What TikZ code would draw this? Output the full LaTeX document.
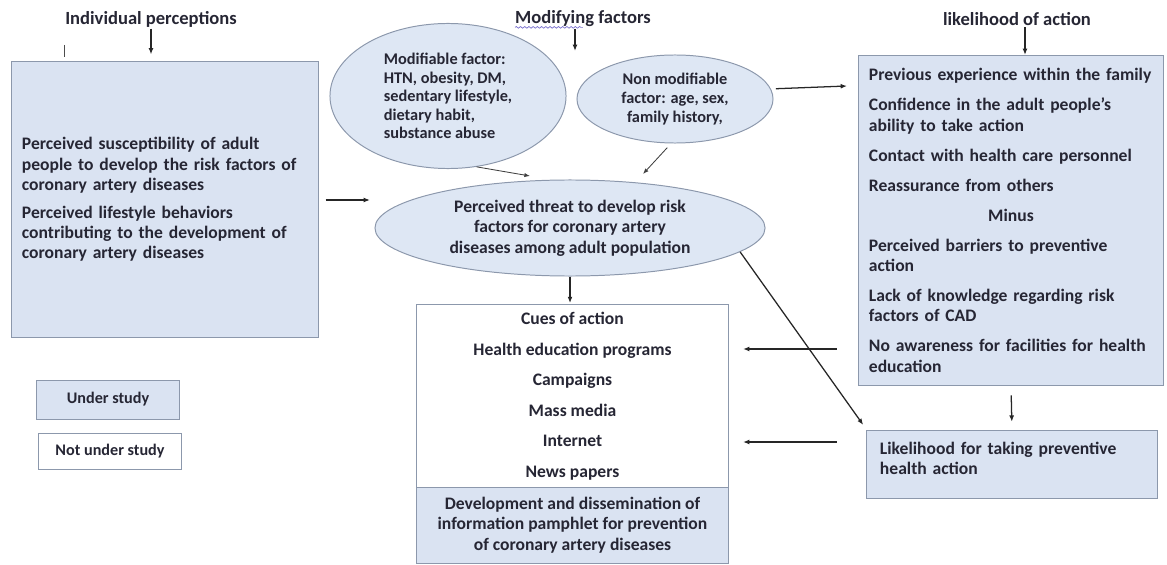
\documentclass[tikz,border=0pt]{standalone}
\usepackage{fontspec}
\setmainfont{Carlito}
\usetikzlibrary{arrows.meta,positioning,shapes.geometric,decorations.pathmorphing}
\definecolor{boxfill}{RGB}{218,227,242}
\definecolor{ovalfill}{RGB}{222,231,244}
\definecolor{boxline}{RGB}{140,152,172}
\definecolor{inktext}{RGB}{38,38,52}
\definecolor{spellmark}{RGB}{120,110,205}

\begin{document}
\begin{tikzpicture}[x=0.025cm, y=-0.025cm,
  font=\bfseries\fontsize{12.5}{14.5}\selectfont, text=inktext,
  title/.style={inner sep=1pt, font=\bfseries\fontsize{13.2}{15}\selectfont},
  bluebox/.style={draw=boxline, fill=boxfill, line width=0.7pt, inner sep=0pt},
  whitebox/.style={draw=boxline, fill=white, line width=0.7pt, inner sep=0pt, align=center},
  oval/.style={ellipse, draw=boxline, fill=ovalfill, line width=0.7pt, inner sep=0pt, align=center},
  small/.style={font=\bfseries\fontsize{11.6}{13.2}\selectfont},
  legend/.style={font=\bfseries\fontsize{11.5}{13}\selectfont},
  arr/.style={-{Latex[length=4.5pt,width=3.5pt]}, line width=0.9pt, draw=black!85},
  arrthin/.style={-{Latex[length=4pt,width=3pt]}, line width=0.6pt, draw=black!75}]
  \useasboundingbox (0,0) rectangle (1167,565);
  % headings
  \node[title] (t-indiv) at (151,19) {Individual perceptions};
  \node[title] (t-mod) at (583,19) {Modifying factors};
  \node[title] (t-like) at (1017,19) {likelihood of action};
  \draw[decorate, decoration={snake, amplitude=0.6pt, segment length=3pt},
        spellmark, line width=0.5pt] ([xshift=1pt,yshift=1pt]t-mod.south west) -- ++(68,0);
  % individual perceptions
  \node[bluebox, minimum width=7.65cm, minimum height=6.875cm, inner xsep=0.25cm,
        text width=7.15cm, align=left] (percep) at (165,199.5)
       {Perceived susceptibility of adult\\ people to develop the risk factors of\\ coronary artery diseases\\[5pt]
        Perceived lifestyle behaviors\\ contributing to the development of\\ coronary artery diseases};
  % modifying factors
  \node[oval, small, align=left, minimum width=5.9cm, minimum height=3.625cm] (modf) at (448,96)
       {Modifiable factor:\\ HTN, obesity, DM,\\ sedentary lifestyle,\\ dietary habit,\\ substance abuse};
  \node[oval, small, minimum width=4.9cm, minimum height=2.2cm] (nonmod) at (675,99)
       {Non modifiable\\ factor: age, sex,\\ family history,};
  \node[oval, minimum width=9.75cm, minimum height=2.4cm] (threat) at (570,228)
       {Perceived threat to develop risk\\ factors for coronary artery\\ diseases among adult population};
  % cues of action
  \node[whitebox, minimum width=7.775cm, minimum height=4.55cm,
        font=\bfseries\fontsize{12.5}{21.7}\selectfont] (cues) at (572.5,396)
       {Cues of action\\ Health education programs\\ Campaigns\\ Mass media\\ Internet\\ News papers};
  \node[bluebox, align=center, minimum width=7.775cm, minimum height=1.9cm] (pamph) at (572.5,525)
       {Development and dissemination of\\ information pamphlet for prevention\\ of coronary artery diseases};
  % likelihood of action
  \node[bluebox, minimum width=7.6cm, minimum height=8.225cm, inner xsep=0.25cm,
        text width=7.1cm, align=left] (factors) at (1011,220.5)
       {Previous experience within the family\\[6.8pt]
        Confidence in the adult people's\\ ability to take action\\[6.8pt]
        Contact with health care personnel\\[6.8pt]
        Reassurance from others\\[6.8pt]
        \makebox[\linewidth]{Minus}\\[6.8pt]
        Perceived barriers to preventive\\ action\\[6.8pt]
        Lack of knowledge regarding risk\\ factors of CAD\\[6.8pt]
        No awareness for facilities for health\\ education};
  \node[bluebox, minimum width=7.25cm, minimum height=1.7cm, inner xsep=0.325cm,
        text width=6.6cm, align=left] (lik) at (1012,464)
       {Likelihood for taking preventive\\ health action\par\vspace{8pt}};
  % legend
  \node[bluebox, legend, minimum width=3.55cm, minimum height=0.975cm] (leg-under) at (108,399.5)
       {Under study\par\vspace{3pt}};
  \node[whitebox, legend, minimum width=3.55cm, minimum height=0.9cm] (leg-not) at (110,451)
       {Not under study\par\vspace{3pt}};
  % connectors
  \coordinate (mod-tip) at (575,51);
  \coordinate (like-tip) at (1025,55);
  \coordinate (thr-in) at (370,200);
  \coordinate (mod-in) at (530,176);
  \coordinate (nm-in) at (643,174);
  \coordinate (fac-in) at (847,86);
  \coordinate (hep-in) at (743,349);
  \coordinate (net-in) at (743,442);
  \draw[line width=0.7pt, black!70] (64,45) -- (64,57);
  \draw[arr, shorten >=5pt] (t-indiv.south) -- (t-indiv.south |- percep.north);
  \draw[arr] (t-mod.south -| mod-tip) -- (mod-tip);
  \draw[arr] (t-like.south -| like-tip) -- (like-tip);
  \draw[arr, shorten <=5pt] (percep.east |- thr-in) -- (thr-in);
  \draw[arrthin] (modf.-68) -- (mod-in);
  \draw[arrthin, shorten <=4pt] (nonmod.265) -- (nm-in);
  \draw[arr, shorten <=3.5pt] (nonmod.6) -- (fac-in);
  \draw[arr, shorten >=1pt] (threat.south) -- (threat.south |- cues.north);
  \draw[arr, shorten >=4pt] (threat.-8) -- (lik.north west);
  \draw[arr, shorten <=15.6pt] (factors.west |- hep-in) -- (hep-in);
  \draw[arr, shorten <=21pt] (lik.west |- net-in) -- (net-in);
  \draw[arr, shorten <=7pt, shorten >=5.5pt] (factors.south) -- (lik.north);
\end{tikzpicture}
\end{document}
